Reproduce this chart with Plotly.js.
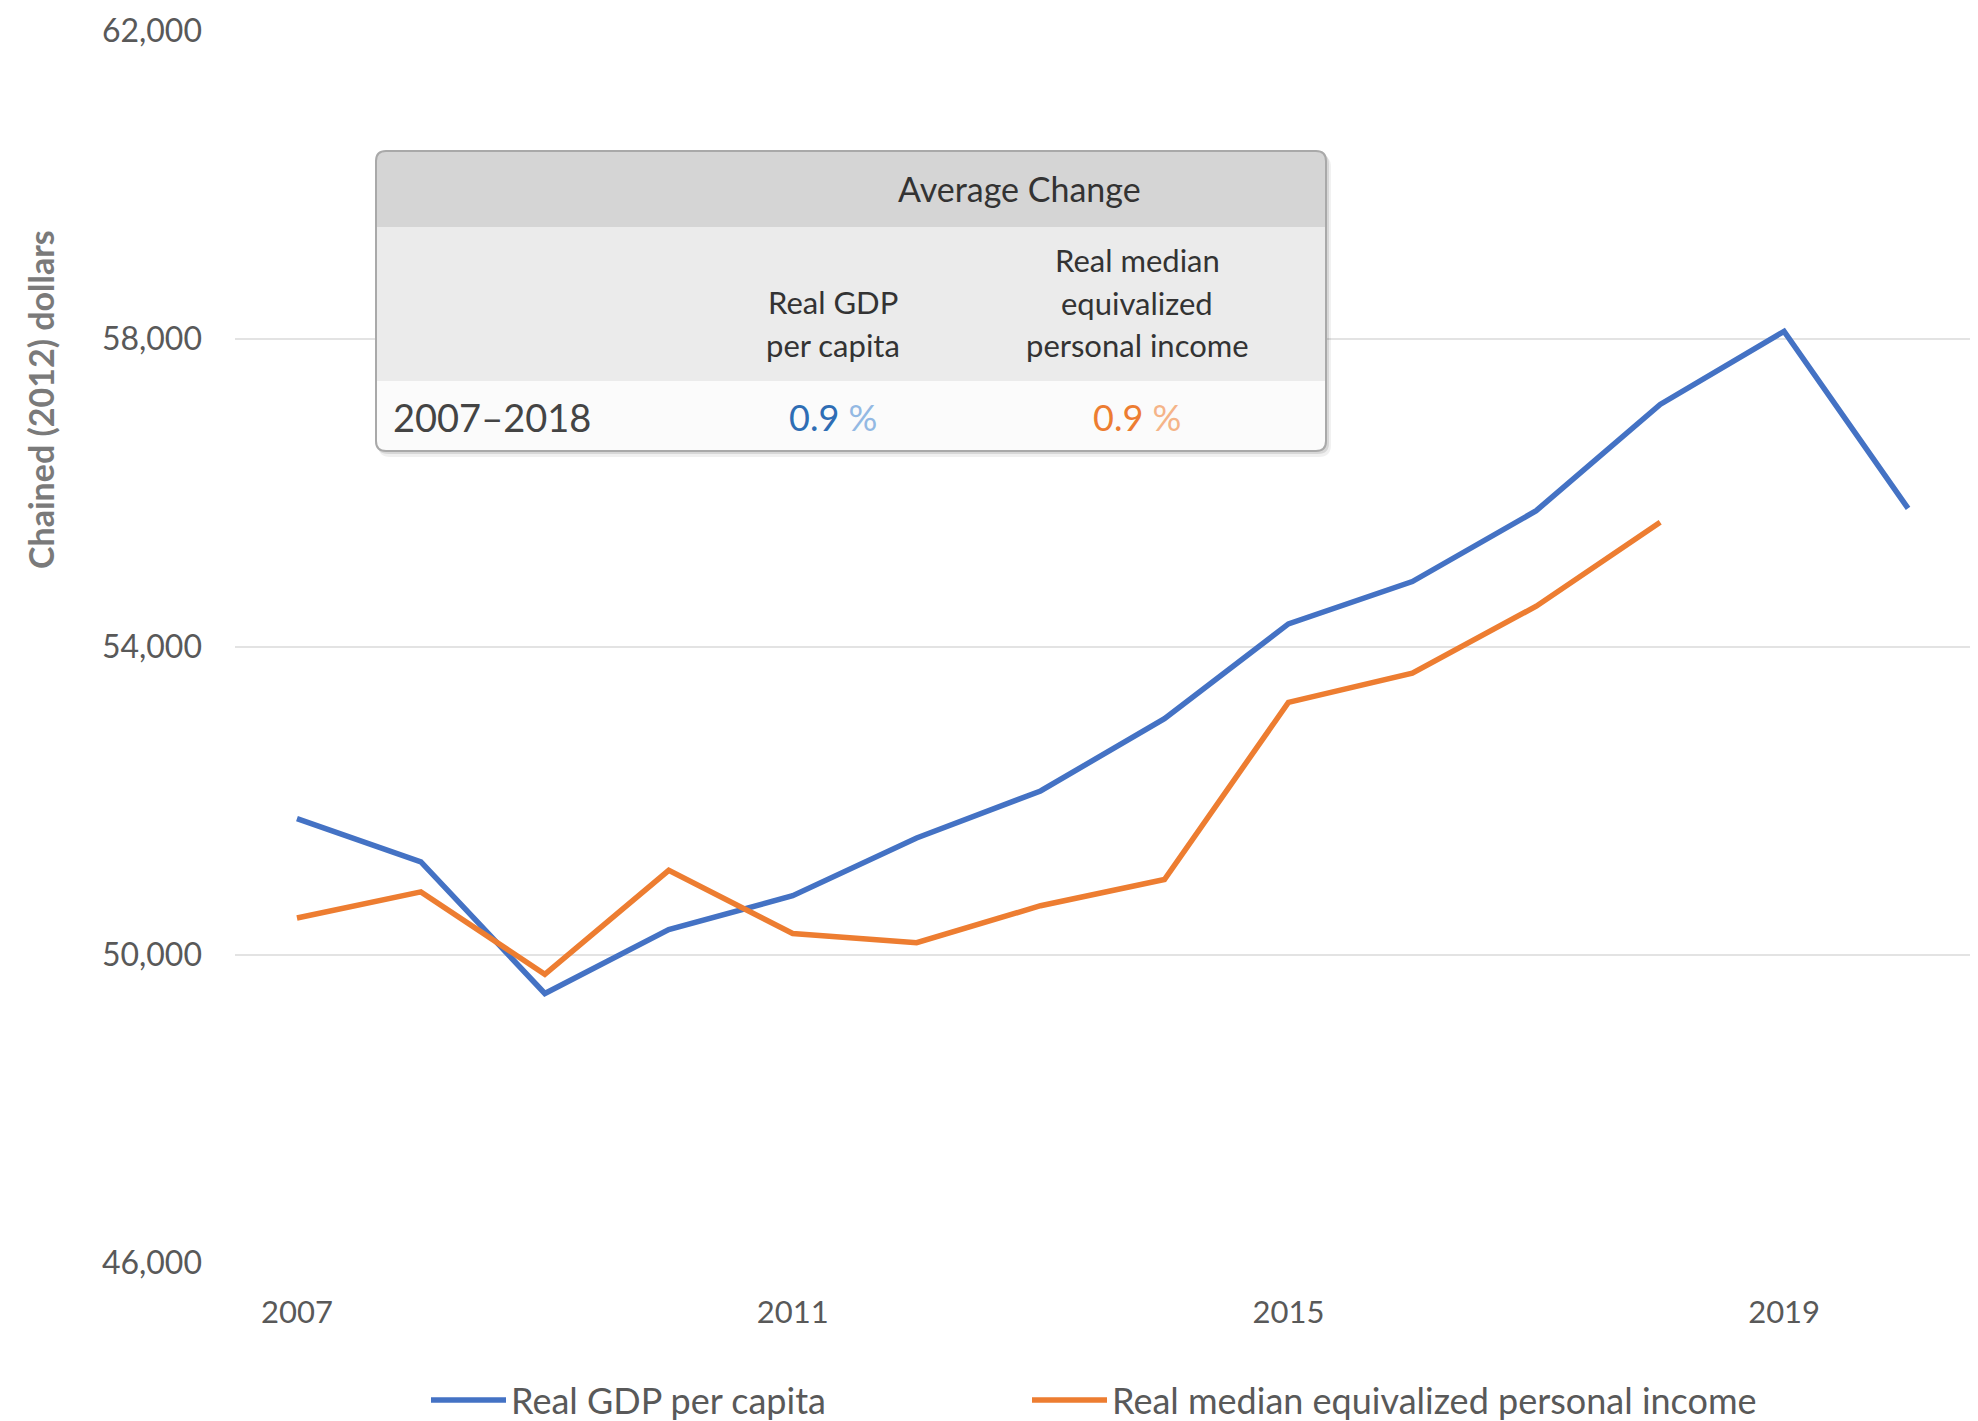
<!DOCTYPE html>
<html>
<head>
<meta charset="utf-8">
<script src="https://cdn.plot.ly/plotly-3.0.1.min.js"></script>
<style>
  html, body { margin: 0; padding: 0; background: #fff; }
  #chart { width: 1978px; height: 1421px; }
</style>
</head>
<body>
<div id="chart"></div>
<script>
// series values
const years = [2007, 2008, 2009, 2010, 2011, 2012, 2013, 2014, 2015, 2016, 2017, 2018, 2019, 2020];
const gdpPerCapita = [51770, 51210, 49500, 50330, 50770, 51520, 52130, 53070, 54300, 54850, 55770, 57150, 58100, 55800];
const incomeYears = [2007, 2008, 2009, 2010, 2011, 2012, 2013, 2014, 2015, 2016, 2017, 2018];
const medianIncome = [50480, 50820, 49750, 51100, 50280, 50160, 50640, 50980, 53280, 53660, 54530, 55620];

const yTicks = [46000, 50000, 54000, 58000, 62000];
const xTicks = [2007, 2011, 2015, 2019];

// the "Average Change" table
const tableTitle = 'Average Change';
const tableColumns = [['Real GDP', 'per capita'], ['Real median', 'equivalized', 'personal income']];
const tablePeriod = '2007–2018';
const avgChange = [0.9, 0.9];

const BLUE = '#4472C4';
const ORANGE = '#ED7D31';
const FONT = 'Lato, "Open Sans", sans-serif';

// plot area in page pixels
const plotL = 235, plotR = 1970, plotT = 31, plotB = 1263;
const plotW = plotR - plotL, plotH = plotB - plotT;
const px = x => (x - plotL) / plotW;
const py = y => (plotB - y) / plotH;

// rounded rectangle as a path in paper coords (corner radius in pixels)
function roundedPath(x0, y0, x1, y1, rTop, rBot) {
  const p = (x, y) => px(x).toFixed(5) + ',' + py(y).toFixed(5);
  return 'M' + p(x0 + rTop, y0) +
    ' L' + p(x1 - rTop, y0) +
    ' Q' + p(x1, y0) + ' ' + p(x1, y0 + rTop) +
    ' L' + p(x1, y1 - rBot) +
    ' Q' + p(x1, y1) + ' ' + p(x1 - rBot, y1) +
    ' L' + p(x0 + rBot, y1) +
    ' Q' + p(x0, y1) + ' ' + p(x0, y1 - rBot) +
    ' L' + p(x0, y0 + rTop) +
    ' Q' + p(x0, y0) + ' ' + p(x0 + rTop, y0) + ' Z';
}

const box = { l: 376, r: 1326, t: 151, head: 227, sub: 381, b: 451 };

const shapes = [
  // soft drop shadow
  { type: 'path', xref: 'paper', yref: 'paper', layer: 'above',
    path: roundedPath(box.l + 2, box.t + 4, box.r + 5, box.b + 6, 12, 12),
    fillcolor: 'rgba(0,0,0,0.06)', line: { width: 0 } },
  { type: 'path', xref: 'paper', yref: 'paper', layer: 'above',
    path: roundedPath(box.l + 1, box.t + 2, box.r + 3, box.b + 3, 11, 11),
    fillcolor: 'rgba(0,0,0,0.10)', line: { width: 0 } },
  // body
  { type: 'path', xref: 'paper', yref: 'paper', layer: 'above',
    path: roundedPath(box.l, box.t, box.r, box.b, 10, 10),
    fillcolor: '#fbfbfb', line: { width: 0 } },
  // header row
  { type: 'path', xref: 'paper', yref: 'paper', layer: 'above',
    path: roundedPath(box.l, box.t, box.r, box.head, 10, 0),
    fillcolor: '#d5d5d5', line: { width: 0 } },
  // column header row
  { type: 'rect', xref: 'paper', yref: 'paper', layer: 'above',
    x0: px(box.l), x1: px(box.r), y0: py(box.sub), y1: py(box.head),
    fillcolor: '#ebebeb', line: { width: 0 } },
  // outline
  { type: 'path', xref: 'paper', yref: 'paper', layer: 'above',
    path: roundedPath(box.l, box.t, box.r, box.b, 10, 10),
    fillcolor: 'rgba(0,0,0,0)', line: { color: '#a9a9a9', width: 2 } }
];

const colX = [833, 1137];
const colLineY = [[302, 345], [260, 303, 345]];
const pctColors = [['#2E6DB4', '#93B9E3'], ['#ED7D31', '#F5B488']];

const annotations = [
  { text: tableTitle, x: px(1019), y: py(188), xref: 'paper', yref: 'paper',
    showarrow: false, xanchor: 'center', yanchor: 'middle',
    font: { family: FONT, size: 34, color: '#333333' } },
  { text: tablePeriod, x: px(391), y: py(417), xref: 'paper', yref: 'paper',
    showarrow: false, xanchor: 'left', yanchor: 'middle',
    font: { family: FONT, size: 38, color: '#444444' } },
  // y axis title
  { text: '<b>Chained (2012) dollars</b>', x: px(40), y: py(400), xref: 'paper', yref: 'paper',
    showarrow: false, textangle: -90, xanchor: 'center', yanchor: 'middle',
    font: { family: FONT, size: 34, color: '#7a7a7a' } }
];

tableColumns.forEach((lines, c) => {
  lines.forEach((line, i) => {
    annotations.push({ text: line, x: px(colX[c]), y: py(colLineY[c][i]), xref: 'paper', yref: 'paper',
      showarrow: false, xanchor: 'center', yanchor: 'middle',
      font: { family: FONT, size: 31, color: '#333333' } });
  });
  annotations.push({
    text: '<span style="color:' + pctColors[c][0] + '">' + avgChange[c].toFixed(1) + '</span>' +
      '<span style="color:' + pctColors[c][1] + '"> %</span>',
    x: px(colX[c]), y: py(417), xref: 'paper', yref: 'paper',
    showarrow: false, xanchor: 'center', yanchor: 'middle',
    font: { family: FONT, size: 36, color: pctColors[c][0] } });
});

const traces = [
  { x: years, y: gdpPerCapita, type: 'scatter', mode: 'lines', name: 'Real GDP per capita',
    line: { color: BLUE, width: 5.5 }, legend: 'legend' },
  { x: incomeYears, y: medianIncome, type: 'scatter', mode: 'lines', name: 'Real median equivalized personal income',
    line: { color: ORANGE, width: 5.5 }, legend: 'legend2' }
];

const legendStyle = {
  orientation: 'h',
  xanchor: 'left',
  y: py(1400), yanchor: 'middle',
  itemwidth: 75,
  font: { family: FONT, size: 36, color: '#595959' },
  bgcolor: 'rgba(0,0,0,0)'
};

const layout = {
  width: 1978,
  height: 1421,
  margin: { l: plotL, r: 1978 - plotR, t: plotT, b: 1421 - plotB, autoexpand: false },
  paper_bgcolor: '#ffffff',
  plot_bgcolor: '#ffffff',
  font: { family: FONT, color: '#595959' },
  xaxis: {
    range: [2006.5, 2020.5],
    tickvals: xTicks,
    ticktext: xTicks.map(String),
    showgrid: false,
    zeroline: false,
    showline: false,
    ticks: '',
    ticklabelstandoff: 28,
    tickfont: { family: FONT, size: 31, color: '#595959' }
  },
  yaxis: {
    range: [46000, 62000],
    tickvals: yTicks,
    tickformat: ',d',
    showgrid: true,
    gridcolor: '#e3e3e3',
    gridwidth: 2,
    zeroline: false,
    showline: false,
    ticks: '',
    ticklabelstandoff: 32,
    tickfont: { family: FONT, size: 32, color: '#595959' }
  },
  showlegend: true,
  legend: Object.assign({}, legendStyle, { x: px(426) }),
  legend2: Object.assign({}, legendStyle, { x: px(1027) }),
  shapes: shapes,
  annotations: annotations
};

Plotly.newPlot('chart', traces, layout, { displayModeBar: false, staticPlot: true });
</script>
</body>
</html>
